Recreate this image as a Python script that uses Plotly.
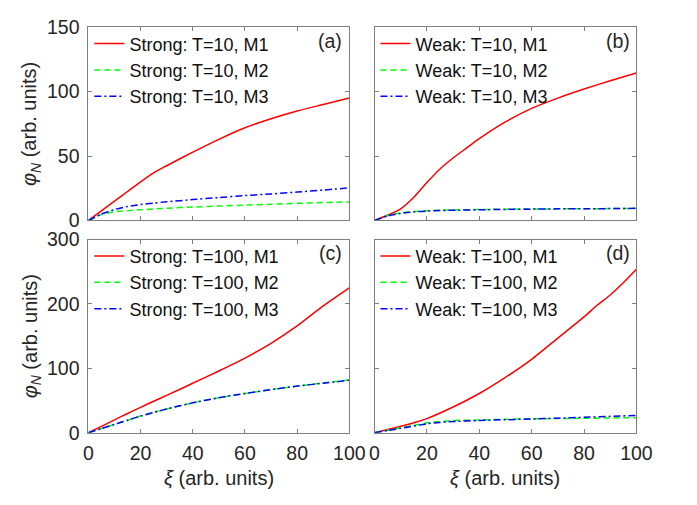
import plotly.graph_objects as go

xi = [0, 5, 10, 15, 20, 25, 30, 40, 50, 60, 70, 80, 90, 100]
xi_red_b = [0, 5, 10, 15, 20, 25, 30, 35, 40, 50, 60, 70, 80, 90, 100]
xi_red_d = [0, 5, 10, 15, 20, 30, 40, 50, 60, 70, 80, 85, 90, 95, 100]

red_a = [0, 7.5, 15, 22.5, 30, 37, 42.5, 53, 63, 72, 79, 85, 90, 95]
green_a = [0, 4.5, 6.7, 7.6, 8.3, 8.9, 9.5, 10.4, 11.2, 11.9, 12.6, 13.3, 13.9, 14.4]
blue_a = [0, 5, 8.5, 10.8, 12.4, 13.5, 14.5, 16.2, 17.8, 19.3, 20.6, 22, 23.6, 25.3]

red_b = [0, 4, 9, 18, 29.5, 40, 48.5, 56, 63.5, 76.5, 87, 95, 102, 108.5, 114.5]
green_b = [0, 3.8, 6, 6.9, 7.6, 8.0, 8.2, 8.5, 8.7, 8.9, 9.0, 9.1, 9.2, 9.3]
blue_b = [0, 3.5, 5.5, 6.6, 7.3, 7.7, 7.9, 8.3, 8.6, 8.8, 9.0, 9.1, 9.2, 9.4]

red_c = [0, 10, 20, 30, 39.5, 49, 58, 77, 96, 116, 139, 166, 197, 225]
green_c = [0, 6.5, 13, 19.5, 26, 31.5, 37, 46.5, 54.5, 61, 67, 72.5, 77.5, 82]
blue_c = [0, 6.5, 13, 19.5, 26, 31.5, 37, 46.5, 54.5, 61, 67, 72.5, 77, 81.5]

red_d = [0, 5, 10, 15.5, 22, 40, 61, 86, 114, 147, 180, 198, 214, 233, 254]
green_d = [0, 4, 8, 11.5, 15.5, 17.5, 19, 20, 21, 21.7, 22.2, 22.5, 23, 23.5]
blue_d = [0, 3.5, 7, 10.5, 14, 16, 17.5, 19, 20.3, 21.4, 22.7, 24, 25.5, 27]

panels = [
    ("Strong: T=10", (xi, red_a), (xi, green_a), (xi, blue_a), "(a)"),
    ("Weak: T=10", (xi_red_b, red_b), (xi, green_b), (xi, blue_b), "(b)"),
    ("Strong: T=100", (xi, red_c), (xi, green_c), (xi, blue_c), "(c)"),
    ("Weak: T=100", (xi_red_d, red_d), (xi, green_d), (xi, blue_d), "(d)"),
]
y_ranges = [[0, 150], [0, 150], [0, 300], [0, 300]]
y_ticks = [[0, 50, 100, 150], [0, 50, 100, 150], [0, 100, 200, 300], [0, 100, 200, 300]]
x_ticks = [0, 20, 40, 60, 80, 100]

W, H = 697, 505
# panel pixel boxes: (left, right, top, bottom)
boxes = [(86, 355, 17, 219), (381, 651, 17, 219), (86, 355, 239, 441), (381, 651, 239, 441)]

FONT = "Liberation Sans, Arial, sans-serif"
TXT = "#262626"
AX = "#808080"

fig = go.Figure()
layout = dict(
    width=W, height=H, margin=dict(l=0, r=0, t=0, b=0),
    paper_bgcolor="white", plot_bgcolor="white",
    font=dict(family=FONT, size=19, color=TXT),
    annotations=[],
)

styles = [
    ("M1", "#ff0000", "solid"),
    ("M2", "#00ff00", "6px,4px"),
    ("M3", "#0000ff", "7px,3px,2px,3px"),
]

for i, (name, r, g, b, lab) in enumerate(panels):
    n = i + 1
    sfx = "" if n == 1 else str(n)
    L, R, T, B = boxes[i]
    xd = [L / W, R / W]
    yd = [1 - B / H, 1 - T / H]
    legname = "legend" if n == 1 else f"legend{n}"
    for (mname, col, dash), (xs, ys) in zip(styles, [r, g, b]):
        fig.add_trace(go.Scatter(
            x=xs, y=ys, mode="lines", name=f"{name}, {mname}",
            line=dict(color=col, width=1.5, dash=dash, shape="spline", smoothing=0.6),
            xaxis=f"x{sfx}", yaxis=f"y{sfx}", legend=legname,
            legendgroup=f"{n}{mname}",
        ))
    layout[f"xaxis{sfx}"] = dict(
        domain=xd, range=[0, 100], tickvals=x_ticks, ticks="inside", ticklen=4,
        tickcolor=AX, showline=True, linecolor=AX, linewidth=1, mirror="ticks",
        showgrid=False, zeroline=False, showticklabels=(n >= 3),
        tickfont=dict(size=19.5, color=TXT), anchor=f"y{sfx}",
        ticklabelstandoff=3,
    )
    layout[f"yaxis{sfx}"] = dict(
        domain=yd, range=y_ranges[i], tickvals=y_ticks[i], ticks="inside", ticklen=4,
        tickcolor=AX, showline=True, linecolor=AX, linewidth=1, mirror="ticks",
        showgrid=False, zeroline=False, showticklabels=(n % 2 == 1),
        tickfont=dict(size=19.5, color=TXT), anchor=f"x{sfx}",
        ticklabelstandoff=4,
    )
    layout[legname] = dict(
        x=(L + 1) / W, y=1 - (T - 2) / H, xanchor="left", yanchor="top",
        bgcolor="rgba(0,0,0,0)", font=dict(size=18, color="#111111", family=FONT),
        tracegroupgap=0, itemwidth=30,
    )
    layout["annotations"].append(dict(
        text=lab, x=(R - 5) / W, y=1 - (T + 14) / H, xref="paper", yref="paper",
        xanchor="right", yanchor="middle", showarrow=False,
        font=dict(size=19.5, color=TXT),
    ))

# axis titles
for (T, B) in [(17, 219), (239, 441)]:
    layout["annotations"].append(dict(
        text="<i>φ</i><sub><i>N</i></sub> (arb. units)",
        x=27 / W, y=1 - ((T + B) / 2) / H, xref="paper", yref="paper",
        xanchor="center", yanchor="middle", textangle=-90, showarrow=False,
        font=dict(size=20, color=TXT),
    ))
for (L, R) in [(86, 355), (381, 651)]:
    layout["annotations"].append(dict(
        text="<i>ξ</i> (arb. units)",
        x=((L + R) / 2) / W, y=1 - 488 / H, xref="paper", yref="paper",
        xanchor="center", yanchor="middle", showarrow=False,
        font=dict(size=20, color=TXT),
    ))

fig.update_layout(**layout)
fig.write_html("out.html")
